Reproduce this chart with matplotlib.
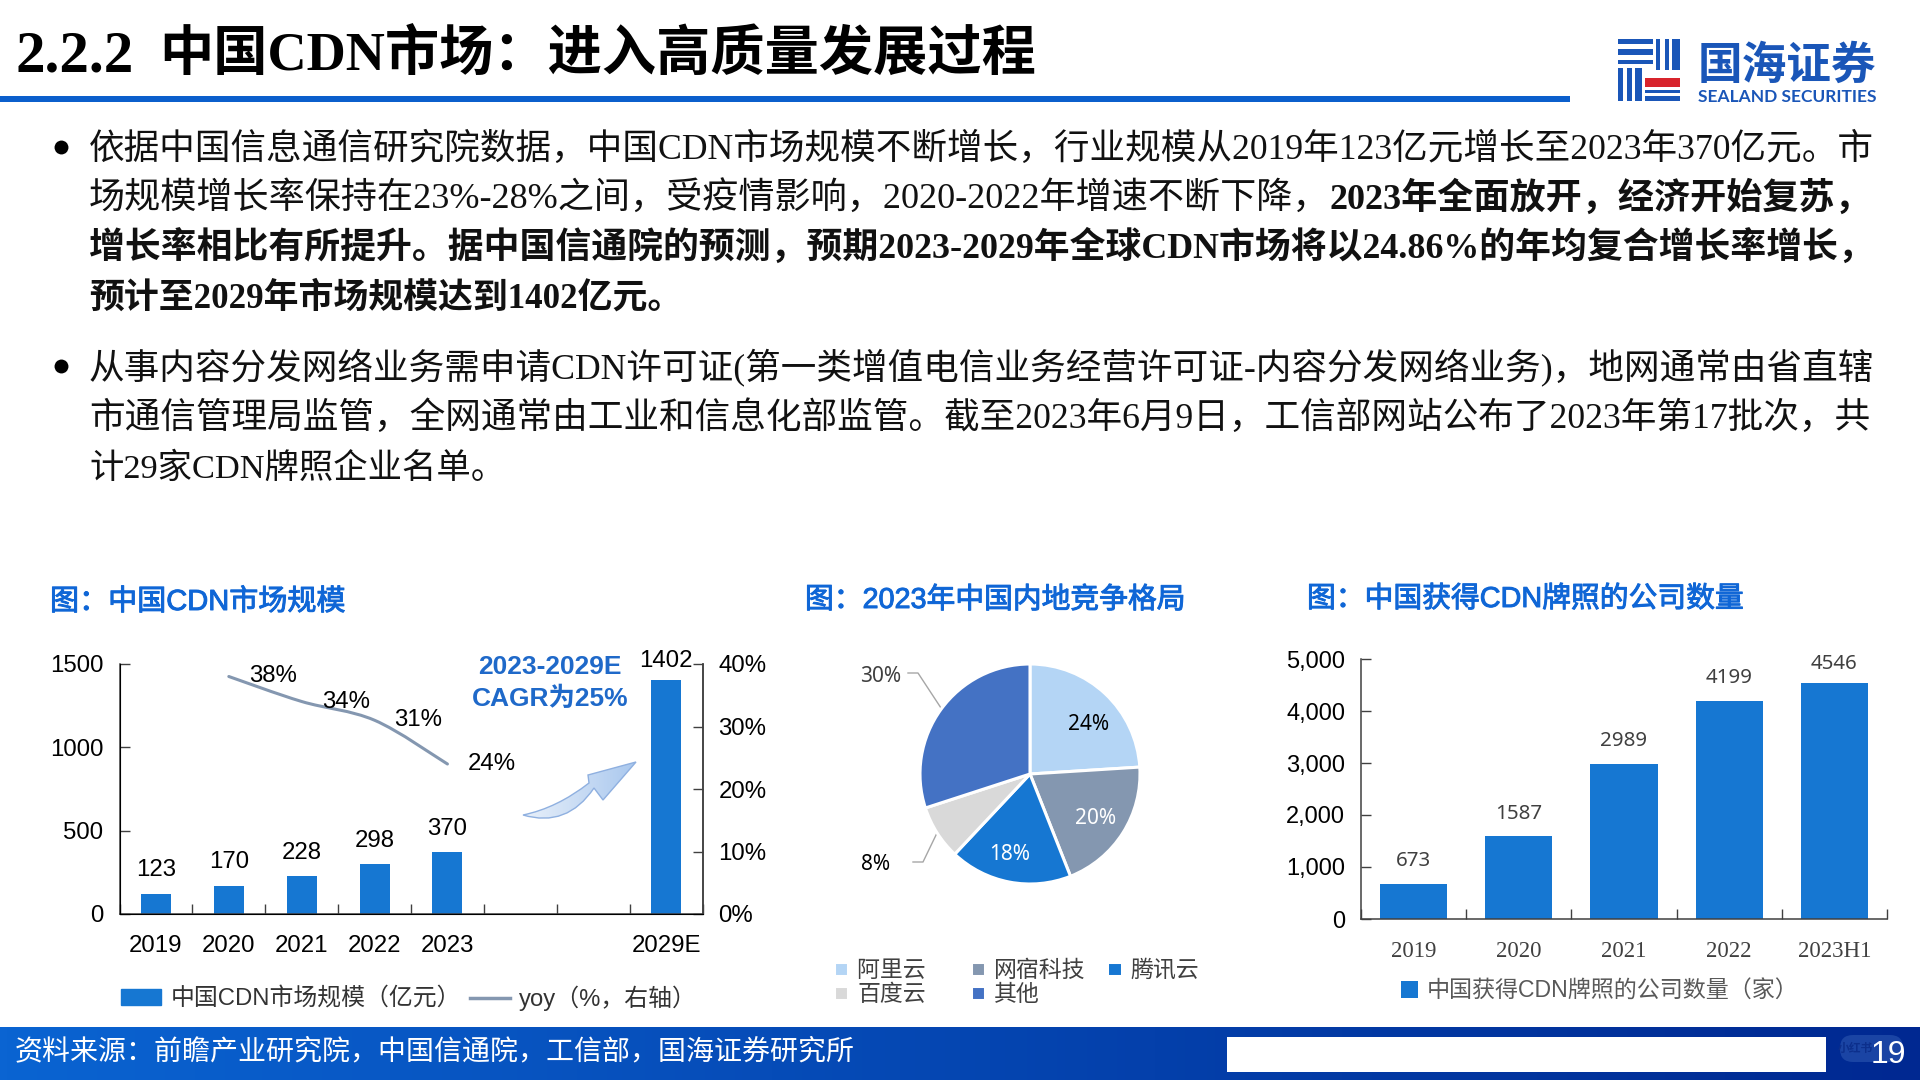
import matplotlib
matplotlib.use('Agg')
import matplotlib.pyplot as plt
import matplotlib.patheffects as pe
import numpy as np
from matplotlib.font_manager import FontProperties
from matplotlib.lines import Line2D
from matplotlib.patches import FancyBboxPatch, Patch, PathPatch, Rectangle
from matplotlib.path import Path

W, H = 1920, 1080
SERIF = ['Liberation Serif', 'Noto Sans CJK SC']
SANS = ['Liberation Sans', 'Noto Sans CJK SC']
NOTO = ['Noto Sans', 'Noto Sans CJK SC']
BLUE = '#1677D2'
TITLE_BLUE = '#0F66D6'
AXIS = '#404040'

# 数据
title_no = '2.2.2'
title = '中国CDN市场：进入高质量发展过程'
para_1 = [
    [('依据中国信息通信研究院数据，中国CDN市场规模不断增长，行业规模从2019年123亿元增长至2023年370亿元。市', False)],
    [('场规模增长率保持在23%-28%之间，受疫情影响，2020-2022年增速不断下降，', False), ('2023年全面放开，经济开始复苏，', True)],
    [('增长率相比有所提升。据中国信通院的预测，预期2023-2029年全球CDN市场将以24.86%的年均复合增长率增长，', True)],
    [('预计至2029年市场规模达到1402亿元。', True)],
]
para_2 = [
    [('从事内容分发网络业务需申请CDN许可证(第一类增值电信业务经营许可证-内容分发网络业务)，地网通常由省直辖', False)],
    [('市通信管理局监管，全网通常由工业和信息化部监管。截至2023年6月9日，工信部网站公布了2023年第17批次，共', False)],
    [('计29家CDN牌照企业名单。', False)],
]
source = '资料来源：前瞻产业研究院，中国信通院，工信部，国海证券研究所'

market_years = ['2019', '2020', '2021', '2022', '2023', '', '', '2029E']
market_size = [123, 170, 228, 298, 370, np.nan, np.nan, 1402]
yoy_idx = [1, 2, 3, 4]
yoy = [38, 34, 31, 24]

vendors = ['阿里云', '网宿科技', '腾讯云', '百度云', '其他']
shares = [24, 20, 18, 8, 30]
share_colors = ['#B4D5F5', '#8497B0', BLUE, '#D9D9D9', '#4472C4']

license_years = ['2019', '2020', '2021', '2022', '2023H1']
license_count = [673, 1587, 2989, 4199, 4546]

fig = plt.figure(figsize=(W / 100, H / 100), dpi=100, facecolor='white')
bg = fig.add_axes([0, 0, 1, 1], zorder=0)
bg.set_xlim(0, W)
bg.set_ylim(H, 0)
bg.axis('off')
renderer = fig.canvas.get_renderer()


def px_axes(left, top, right, bottom, **kw):
    return fig.add_axes([left / W, 1 - bottom / H, (right - left) / W, (bottom - top) / H], **kw)


def draw_runs(runs, x0, y, x1=None, size=25, family=SERIF, color='#111111'):
    # 一行文字，给了x1就缩放字号撑满这一段
    texts = [bg.text(x0, y, s, fontsize=size, family=family, color=color,
                     fontweight='bold' if b else 'normal', va='baseline') for s, b in runs]
    if x1 is not None:
        width = sum(t.get_window_extent(renderer).width for t in texts)
        for t in texts:
            t.set_fontsize(size * (x1 - x0) / width)
    x = x0
    for t in texts:
        t.set_x(x)
        x += t.get_window_extent(renderer).width
    return texts


def chart_title(s, x0, y, x1):
    # 没有中等字重，用细描边加粗一点
    for t in draw_runs([(s, False)], x0, y, x1=x1, size=21, family=SANS, color=TITLE_BLUE):
        t.set_path_effects([pe.withStroke(linewidth=0.7, foreground=TITLE_BLUE)])


def fmt_axis(ax, n, length=10):
    # 刻度在类别之间，向内
    ax.set_xlim(-0.5, n - 0.5)
    ax.set_xticks(np.arange(n + 1) - 0.5)
    ax.set_xticklabels([])
    ax.tick_params(axis='x', which='major', direction='in', length=length * 0.72, width=1, color=AXIS)
    ax.set_xticks(np.arange(n), minor=True)
    ax.tick_params(axis='x', which='minor', length=0)
    ax.tick_params(axis='y', direction='in', length=length * 0.72, width=1, color=AXIS, pad=11.5)
    ax.patch.set_alpha(0)
    for s in ax.spines.values():
        s.set_color(AXIS)
        s.set_linewidth(1.1)
    ax.spines['top'].set_visible(False)


def smooth_path(xs, ys):
    # 平滑折线，贝塞尔控制点取自相邻数据点
    xs, ys = np.asarray(xs, float), np.asarray(ys, float)
    verts, codes = [(xs[0], ys[0])], [Path.MOVETO]
    for i in range(len(xs) - 1):
        a, b = max(i - 1, 0), min(i + 2, len(xs) - 1)
        verts.append((xs[i] + (xs[i + 1] - xs[a]) / 6, ys[i] + (ys[i + 1] - ys[a]) / 6))
        verts.append((xs[i + 1] - (xs[b] - xs[i]) / 6, ys[i + 1] - (ys[b] - ys[i]) / 6))
        verts.append((xs[i + 1], ys[i + 1]))
        codes += [Path.CURVE4] * 3
    return Path(verts, codes)


# 页眉
draw_runs([(title_no, True)], 15, 71, x1=133, size=39, color='black')
draw_runs([(title, True)], 159, 71, x1=1035, size=39, color='black')
bg.add_patch(Rectangle((0, 96), 1570, 6, color='#0B5FCC', lw=0))

# 徽标
logo_blue = '#1A56B8'
for x, y, w, h in [(1618, 39, 35, 5), (1618, 49, 35, 6), (1618, 60, 35, 4),
                   (1618, 68, 5, 33), (1627, 68, 5, 33), (1635, 68, 7, 33),
                   (1656, 39, 4, 31), (1665, 39, 4, 31), (1672, 39, 8, 31),
                   (1645, 90, 35, 3), (1645, 96, 35, 5)]:
    bg.add_patch(Rectangle((x, y), w, h, color=logo_blue, lw=0))
bg.add_patch(Rectangle((1645, 78), 35, 9, color='#D8242C', lw=0))
draw_runs([('国海证券', True)], 1698, 79, x1=1877, size=32, family=SANS, color=logo_blue)
draw_runs([('SEALAND SECURITIES', True)], 1698, 102, x1=1877, size=12, family='Lato', color=logo_blue)

# 正文
for runs, y, x1 in zip(para_1, [159, 209, 258, 308], [1873, 1873, 1873, 683]):
    draw_runs(runs, 89, y, x1=x1)
for runs, y, x1 in zip(para_2, [378, 428, 478], [1873, 1873, 505]):
    draw_runs(runs, 89, y, x1=x1)
for y in [147, 366]:
    bg.plot(61, y, 'o', ms=10, color='black', mew=0)

# 页脚
grad = np.linspace(0, 1, 256)[None, :, None]
footer = (1 - grad) * np.array([10, 100, 210]) + grad * np.array([0, 40, 145])
bg.imshow(footer / 255, extent=(0, W, 1080, 1027), aspect='auto', zorder=1)
bg.set_xlim(0, W)
bg.set_ylim(H, 0)
bg.add_patch(Rectangle((1227, 1037), 599, 35, color='white', lw=0, zorder=2))
bg.add_patch(FancyBboxPatch((1840, 1035), 63, 27, boxstyle='round,pad=0,rounding_size=13',
                            mutation_aspect=1, fc='#1A44A4', lw=0, zorder=2))
bg.text(1855, 1049, '小红书', fontsize=8.5, family=SANS, fontweight='bold', color='#0C2F8C',
        ha='center', va='center', zorder=3)
for t in draw_runs([(source, False)], 15, 1059, x1=853, size=20, family=SANS, color='white'):
    t.set_zorder(3)
bg.text(1888, 1055, '19', fontsize=23, family=SANS, color='white', ha='center', va='center', zorder=3)

# 图表标题
chart_title('图：中国CDN市场规模', 50, 610, 345)
chart_title('图：2023年中国内地竞争格局', 805, 608, 1185)
chart_title('图：中国获得CDN牌照的公司数量', 1307, 607, 1743)

# 图1 市场规模
ax = px_axes(119.5, 664, 702.5, 914, zorder=2)
x_pos = np.arange(len(market_years))
ax.bar(x_pos, market_size, width=0.41, color=BLUE)
ax.set_ylim(0, 1500)
ax.set_yticks([0, 500, 1000, 1500])
fmt_axis(ax, len(market_years))
ax.tick_params(axis='y', labelsize=17.3, labelfontfamily='Liberation Sans', labelcolor='black')
ax.set_xticks(x_pos, market_years, minor=True, fontsize=17.3, family='Liberation Sans', color='black')
ax.tick_params(axis='x', which='minor', pad=15)
for i, v in enumerate(market_size):
    if not np.isnan(v):
        ax.annotate(str(v), (i, v), xytext=(0, 13.7 if v > 1000 else 16.8), textcoords='offset points',
                    ha='center', va='center', fontsize=17.3, family='Liberation Sans', clip_on=False)

ax2 = ax.twinx()
ax2.set_ylim(0, 40)
ax2.set_yticks([0, 10, 20, 30, 40], [f'{v}%' for v in [0, 10, 20, 30, 40]])
ax2.tick_params(axis='y', direction='in', length=7.2, width=1, color=AXIS, pad=11.5,
                labelsize=17.3, labelfontfamily='Liberation Sans')
ax2.spines['top'].set_visible(False)
ax2.spines['right'].set_color(AXIS)
ax2.spines['right'].set_linewidth(1.1)
ax2.add_patch(PathPatch(smooth_path(yoy_idx, yoy), fc='none', ec='#8497B0', lw=2.2, capstyle='round'))
for i, v in zip(yoy_idx, yoy):
    ax2.annotate(f'{v}%', (i, v), xytext=(44 * 0.72, 0), textcoords='offset points',
                 ha='center', va='center', fontsize=17.3, family='Liberation Sans')

# CAGR 标注和箭头
cagr_color = '#1F69C9'
bg.text(550, 667, '2023-2029E', fontsize=19, family=SANS, fontweight='bold', color=cagr_color, ha='center', va='center')
bg.text(550, 699, 'CAGR为25%', fontsize=19, family=SANS, fontweight='bold', color=cagr_color, ha='center', va='center')
arrow = Path([(523, 815), (557, 808), (589, 783), (588, 775), (636, 762), (603, 800), (594, 788),
              (567, 828), (523, 815), (523, 815)],
             [Path.MOVETO, Path.CURVE3, Path.CURVE3, Path.LINETO, Path.LINETO, Path.LINETO, Path.LINETO,
              Path.CURVE3, Path.CURVE3, Path.CLOSEPOLY])
arrow_patch = PathPatch(arrow, fc='none', ec='#8FB0E0', lw=1, zorder=4)
bg.add_patch(arrow_patch)
shade = np.linspace(0, 1, 64)[None, :, None]
arrow_img = (1 - shade) * np.array([232, 240, 250]) + shade * np.array([170, 200, 238])
im = bg.imshow(arrow_img / 255, extent=(523, 636, 830, 760), aspect='auto', zorder=3)
im.set_clip_path(arrow_patch)
bg.set_xlim(0, W)
bg.set_ylim(H, 0)

fig.legend([Patch(color=BLUE), Line2D([], [], color='#8497B0', lw=2.5)],
           ['中国CDN市场规模（亿元）', 'yoy（%，右轴）'],
           ncol=2, loc='center left', bbox_to_anchor=(121 / W, 1 - 998 / H), frameon=False,
           prop=FontProperties(family=SANS, size=17.2), labelcolor='#333333', borderpad=0, borderaxespad=0,
           handlelength=1.68, handleheight=0.65, handletextpad=0.4, columnspacing=0.35)

# 图2 饼图
ax3 = px_axes(1030 - 110, 774 - 110, 1030 + 110, 774 + 110, zorder=2)
wedges, _ = ax3.pie(shares, colors=share_colors, startangle=90, counterclock=False, radius=1,
                    wedgeprops={'edgecolor': 'white', 'linewidth': 2.2})
ax3.set_xlim(-1, 1)
ax3.set_ylim(-1, 1)
share_label_pos = [(1089, 725), (1096, 819), (1010, 855), (876, 865), (881, 676)]
share_label_colors = ['black', 'white', 'white', 'black', '#404040']
for v, (x, y), c in zip(shares, share_label_pos, share_label_colors):
    ax3.annotate(f'{v}%', xy=(x / W, 1 - y / H), xycoords='figure fraction', fontsize=15,
                 family=NOTO, color=c, ha='center', va='center', annotation_clip=False)
bg.plot([908, 918, 941], [673, 673, 708], color='#A6A6A6', lw=1)
bg.plot([913, 923, 937], [862, 862, 833], color='#A6A6A6', lw=1)
# 图例列方向排，每列补一个全角空格凑齐列宽
order = [0, 3, 1, 4, 2]
fig.legend([wedges[i] for i in order],
           [vendors[i] + ('\u3000' if i == 0 else '') for i in order],
           ncol=3, loc='upper left', bbox_to_anchor=(834 / W, 1 - 959 / H), frameon=False,
           prop=FontProperties(family=NOTO, size=16.5), labelcolor='#404040', borderpad=0, borderaxespad=0,
           handlelength=0.62, handleheight=0.62, handletextpad=0.4, columnspacing=0.95, labelspacing=0)

# 图3 牌照数量
ax4 = px_axes(1361, 659, 1887, 919, zorder=2)
x_pos = np.arange(len(license_years))
bars4 = ax4.bar(x_pos, license_count, width=0.64, color=BLUE, label='中国获得CDN牌照的公司数量（家）')
ax4.set_ylim(0, 5000)
ax4.set_yticks(range(0, 5001, 1000), [f'{v:,}' for v in range(0, 5001, 1000)])
fmt_axis(ax4, len(license_years), length=10)
ax4.spines['right'].set_visible(False)
ax4.tick_params(axis='y', labelsize=17, labelfontfamily='Liberation Sans')
ax4.set_xticks(x_pos, license_years, minor=True, fontsize=16.5, family='Liberation Serif', color='#404040')
ax4.tick_params(axis='x', which='minor', pad=15.5)
for i, v in enumerate(license_count):
    ax4.annotate(str(v), (i, v), xytext=(0, 13.7 if v > 4500 else 16.5), textcoords='offset points',
                 ha='center', va='center', fontsize=14.8, family='Noto Sans', color='#404040')
fig.legend(handles=[bars4], loc='center left', bbox_to_anchor=(1401 / W, 1 - 991 / H), frameon=False,
           prop=FontProperties(family=SANS, size=16.6), labelcolor='#595959', borderpad=0, borderaxespad=0,
           handlelength=0.72, handleheight=0.72, handletextpad=0.4)

fig.savefig('out.png', dpi=100)
